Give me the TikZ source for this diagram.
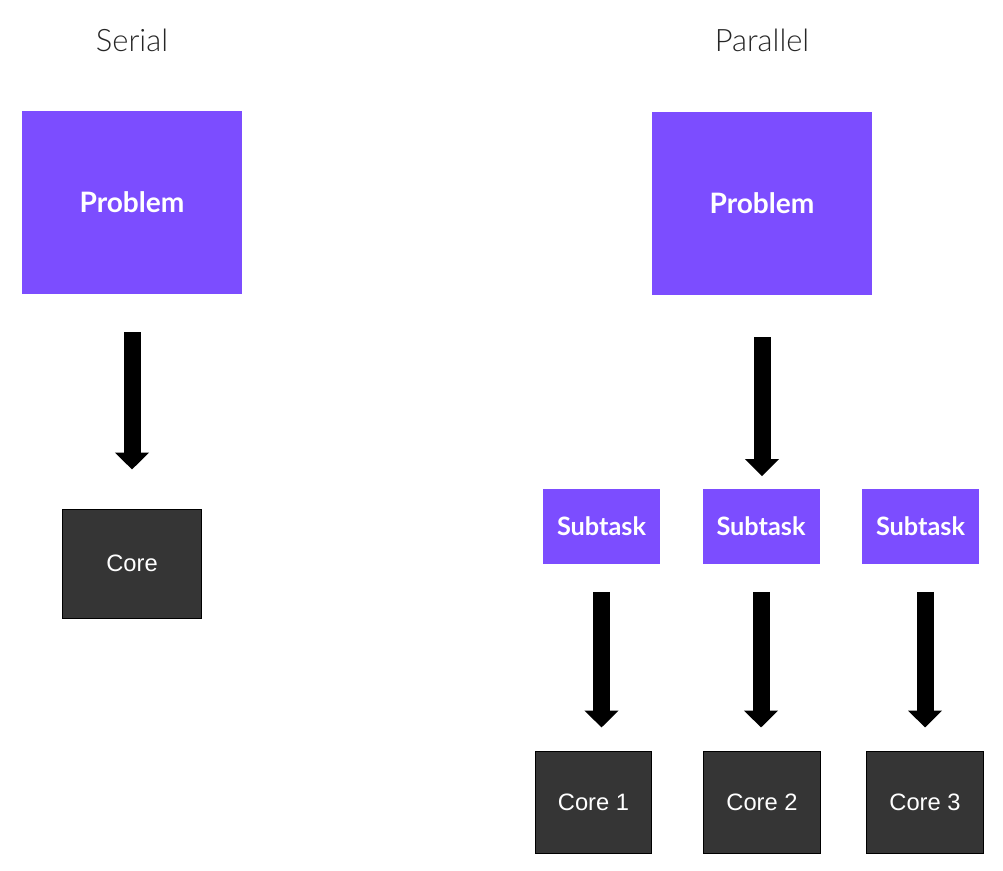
\documentclass[tikz,border=0pt]{standalone}
\usepackage{fontspec}
\setmainfont{Liberation Sans}
\IfFontExistsTF{Lato Light}
  {\newfontfamily\titlefont{Lato Light}}
  {\newfontfamily\titlefont{Lato}}
\newfontfamily\boldfont{Lato}[BoldFont={* Bold}]
\usepackage{xcolor}
\usepackage{tikz}
\usetikzlibrary{arrows.meta}
\definecolor{viola}{HTML}{7C4DFF}
\definecolor{scuro}{HTML}{353535}
\tikzset{
    compito/.style={
        fill=viola, inner sep=0pt, text=white,
        font=\boldfont\bfseries
    },
    nucleo/.style={
        fill=scuro, draw=black, line width=0.02cm, inner sep=0pt,
        text=white, font=\fontsize{13.5}{15}\selectfont
    },
    titolo/.style={
        font=\titlefont\fontsize{17.6}{20}\selectfont, text=black!85
    },
    freccia/.style={
        line width=0.34cm,
        -{Triangle[width=0.66cm,length=0.34cm]}
    }
}

\begin{document}
\begin{tikzpicture}[x=0.02cm,y=-0.02cm]

% Cornice
\useasboundingbox (0,0) rectangle (1003,870);

% Titoli
\node[titolo] (tser) at (132,40) {Serial};
\node[titolo] (tpar) at (762,40) {Parallel};

% Seriale
\node[compito, minimum width=4.4cm, minimum height=3.66cm,
      font=\boldfont\bfseries\fontsize{16}{18}\selectfont]
      (probS) at (132,202.5) {Problem};
\node[nucleo, minimum width=2.8cm, minimum height=2.18cm]
      (coreS) at (132,563.5) {Core};
\draw[freccia, shorten <=0.76cm, shorten >=0.78cm] (probS.south) -- (coreS.north);

% Parallelo
\node[compito, minimum width=4.4cm, minimum height=3.66cm,
      font=\boldfont\bfseries\fontsize{16}{18}\selectfont]
      (probP) at (762,203.5) {Problem};

\node[compito, minimum width=2.34cm, minimum height=1.5cm,
      font=\boldfont\bfseries\fontsize{14.4}{17}\selectfont]
      (sub1) at (601.5,526) {Subtask};
\node[compito, minimum width=2.34cm, minimum height=1.5cm,
      font=\boldfont\bfseries\fontsize{14.4}{17}\selectfont]
      (sub2) at (761,526) {Subtask};
\node[compito, minimum width=2.34cm, minimum height=1.5cm,
      font=\boldfont\bfseries\fontsize{14.4}{17}\selectfont]
      (sub3) at (920.5,526) {Subtask};

\node[nucleo, minimum width=2.34cm, minimum height=2.04cm]
      (core1) at (593.5,802) {Core 1};
\node[nucleo, minimum width=2.34cm, minimum height=2.04cm]
      (core2) at (762,802) {Core 2};
\node[nucleo, minimum width=2.34cm, minimum height=2.04cm]
      (core3) at (925,802) {Core 3};

% Frecce
\draw[freccia, shorten <=0.84cm, shorten >=0.24cm] (probP.south) -- (probP.south |- sub2.north);
\draw[freccia, shorten <=0.56cm, shorten >=0.46cm] (sub1.south) -- (sub1.south |- core1.north);
\draw[freccia, shorten <=0.56cm, shorten >=0.46cm] (sub2.south) -- (sub2.south |- core2.north);
\draw[freccia, shorten <=0.56cm, shorten >=0.46cm] (core3.north |- sub3.south) -- (core3.north);

\end{tikzpicture}
\end{document}
